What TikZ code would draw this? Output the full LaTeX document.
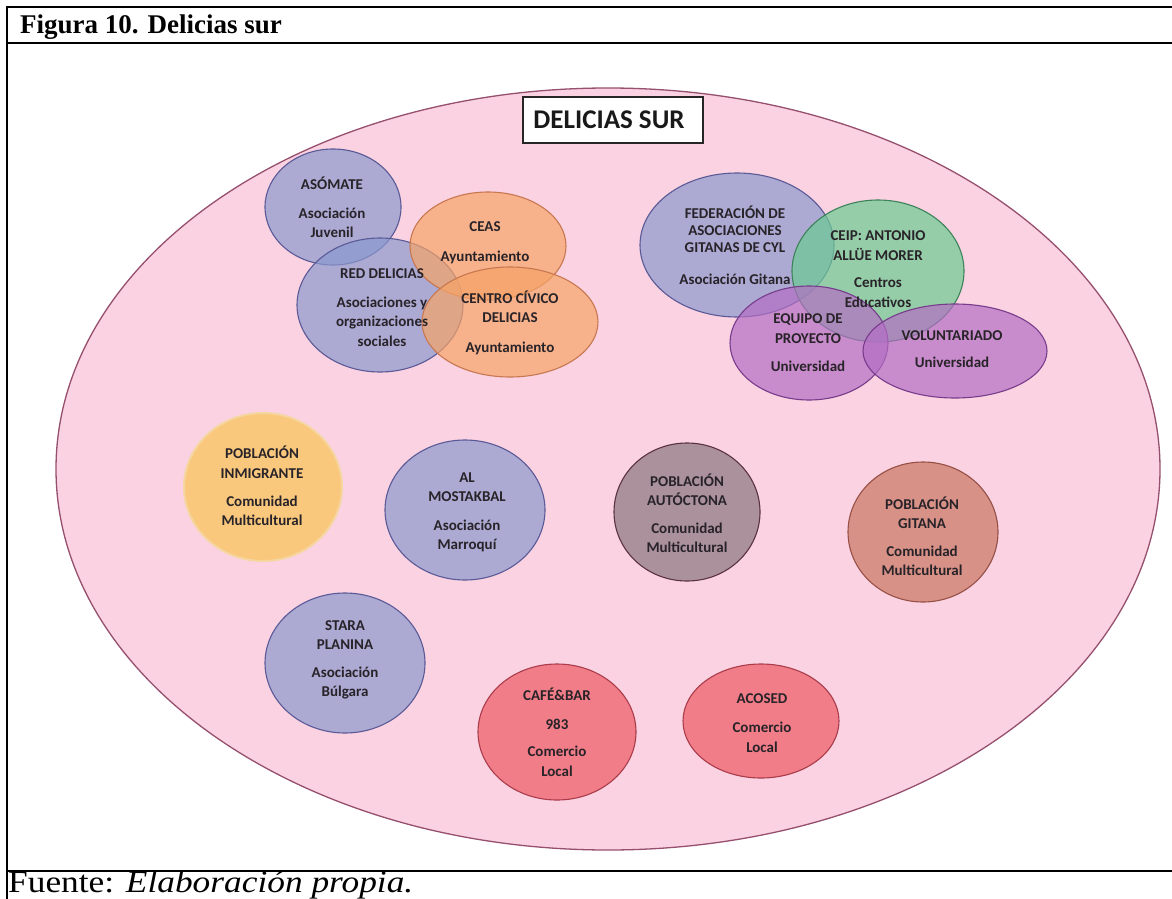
\documentclass[tikz,border=0pt]{standalone}
\usepackage{fontspec}
\setmainfont{Liberation Serif}
\newfontfamily\carlito{Carlito}
\usetikzlibrary{shapes.geometric}
\definecolor{pinkbg}{RGB}{250,210,226}
\definecolor{pinkline}{RGB}{150,80,110}
\definecolor{bluefill}{RGB}{139,153,206}
\definecolor{blueline}{RGB}{90,90,150}
\definecolor{orfill}{RGB}{246,164,103}
\definecolor{orline}{RGB}{200,120,80}
\definecolor{grfill}{RGB}{107,203,146}
\definecolor{grline}{RGB}{60,130,90}
\definecolor{pufill}{RGB}{179,110,196}
\definecolor{puline}{RGB}{120,60,140}
\definecolor{yefill}{RGB}{250,200,125}
\definecolor{yeline}{RGB}{246,214,160}
\definecolor{aufill}{RGB}{170,145,155}
\definecolor{auline}{RGB}{90,50,65}
\definecolor{gifill}{RGB}{215,145,135}
\definecolor{giline}{RGB}{150,80,70}
\definecolor{refill}{RGB}{240,125,135}
\definecolor{reline}{RGB}{170,60,75}
\definecolor{txt}{RGB}{40,35,40}
\tikzset{
  ov/.style={ellipse, inner sep=0pt, line width=1.1pt},
  blueov/.style={ov, draw=blueline, fill=bluefill, fill opacity=0.7},
  orov/.style={ov, draw=orline, fill=orfill, fill opacity=0.7},
  grov/.style={ov, draw=grline, fill=grfill, fill opacity=0.7},
  puov/.style={ov, draw=puline, fill=pufill, fill opacity=0.7},
  yeov/.style={ov, draw=yeline, fill=yefill, line width=2pt},
  auov/.style={ov, draw=auline, fill=aufill},
  giov/.style={ov, draw=giline, fill=gifill},
  reov/.style={ov, draw=reline, fill=refill},
  lbl/.style={font=\carlito\bfseries\fontsize{15}{19.5}\selectfont, align=center, text=txt, inner sep=0pt},
  frameline/.style={line width=2.5pt, black},
}
\begin{document}
\begin{tikzpicture}[x=1pt,y=-1pt]
\useasboundingbox (0,0) rectangle (1172,899);
\fill[white] (0,0) rectangle (1172,899);
% frame
\draw[frameline] (7,7) -- (1172,7);
\draw[frameline] (7,43) -- (1172,43);
\draw[frameline] (7,871) -- (1172,871);
\draw[frameline] (7,5.75) -- (7,899);
\node[anchor=base west, inner sep=0pt, font=\bfseries\fontsize{27}{30}\selectfont] (title) at (20,33.5) {Figura 10. Delicias sur};
\node[anchor=base west, inner sep=0pt, font=\fontsize{31}{36}\selectfont] (fuente) at (8,892.5) {\scalebox{1.14}[1]{Fuente: \textit{Elaboración propia.}}};
% big ellipse
\node[ellipse, inner sep=0pt, draw=pinkline, line width=1.3pt, fill=pinkbg, minimum width=1104, minimum height=762] (barrio) at (608,469) {};
\node[draw=black!85, line width=1.5pt, fill=white, minimum width=180, minimum height=46, inner sep=0pt, font=\carlito\bfseries\fontsize{27}{30}\selectfont, text=black!90] (header) at (613,120) {DELICIAS SUR\hspace*{8pt}};
% ellipses
\node[blueov, minimum width=136, minimum height=116] (asomate) at (333,207) {};
\node[blueov, minimum width=166, minimum height=134] (red) at (380,305) {};
\node[orov, minimum width=156, minimum height=108] (ceas) at (488,246) {};
\node[orov, minimum width=176, minimum height=110] (centro) at (510,322) {};
\node[blueov, minimum width=194, minimum height=144] (fed) at (737,245) {};
\node[grov, minimum width=172, minimum height=142] (ceip) at (878,271) {};
\node[puov, minimum width=158, minimum height=114] (equipo) at (809,343) {};
\node[puov, minimum width=184, minimum height=94] (volunt) at (955,351) {};
\node[yeov, minimum width=158, minimum height=148] (inmig) at (263,487) {};
\node[blueov, minimum width=160, minimum height=140] (almost) at (465,510) {};
\node[auov, minimum width=146, minimum height=138] (autoc) at (687,512) {};
\node[giov, minimum width=150, minimum height=140] (gitana) at (923,532) {};
\node[blueov, minimum width=160, minimum height=140] (stara) at (345,663) {};
\node[reov, minimum width=158, minimum height=136] (cafe) at (557,732) {};
\node[reov, minimum width=156, minimum height=114] (acosed) at (761,721) {};
% labels
\node[lbl] (asomate-t) at (332,207.5) {ASÓMATE\\[9pt]Asociación\\Juvenil};
\node[lbl] (red-t) at (382,307.5) {RED DELICIAS\\[9pt]Asociaciones y\\organizaciones\\sociales};
\node[lbl] (ceas-t) at (485,243) {CEAS\\[10pt]Ayuntamiento};
\node[lbl] (centro-t) at (510,322.5) {CENTRO CÍVICO\\DELICIAS\\[10pt]Ayuntamiento};
\node[lbl, font=\carlito\bfseries\fontsize{15}{17}\selectfont] (fed-t) at (735,245) {FEDERACIÓN DE\\ASOCIACIONES\\GITANAS DE CYL\\[15pt]Asociación Gitana};
\node[lbl] (ceip-t) at (878,269) {CEIP: ANTONIO\\ALLÜE MORER\\[8pt]Centros\\Educativos};
\node[lbl] (equipo-t) at (808,343) {EQUIPO DE\\PROYECTO\\[9pt]Universidad};
\node[lbl] (volunt-t) at (952,349) {VOLUNTARIADO\\[8pt]Universidad};
\node[lbl] (inmig-t) at (262,486) {POBLACIÓN\\INMIGRANTE\\[8pt]Comunidad\\Multicultural};
\node[lbl] (almost-t) at (467,512.5) {AL\\MOSTAKBAL\\[9pt]Asociación\\Marroquí};
\node[lbl] (autoc-t) at (687,513) {POBLACIÓN\\AUTÓCTONA\\[8pt]Comunidad\\Multicultural};
\node[lbl] (gitana-t) at (922,536) {POBLACIÓN\\GITANA\\[8pt]Comunidad\\Multicultural};
\node[lbl] (stara-t) at (345,660) {STARA\\PLANINA\\[8pt]Asociación\\Búlgara};
\node[lbl] (cafe-t) at (557,732) {CAFÉ\&BAR\\[9pt]983\\[8pt]Comercio\\Local};
\node[lbl] (acosed-t) at (762,723) {ACOSED\\[10pt]Comercio\\Local};
\end{tikzpicture}
\end{document}
